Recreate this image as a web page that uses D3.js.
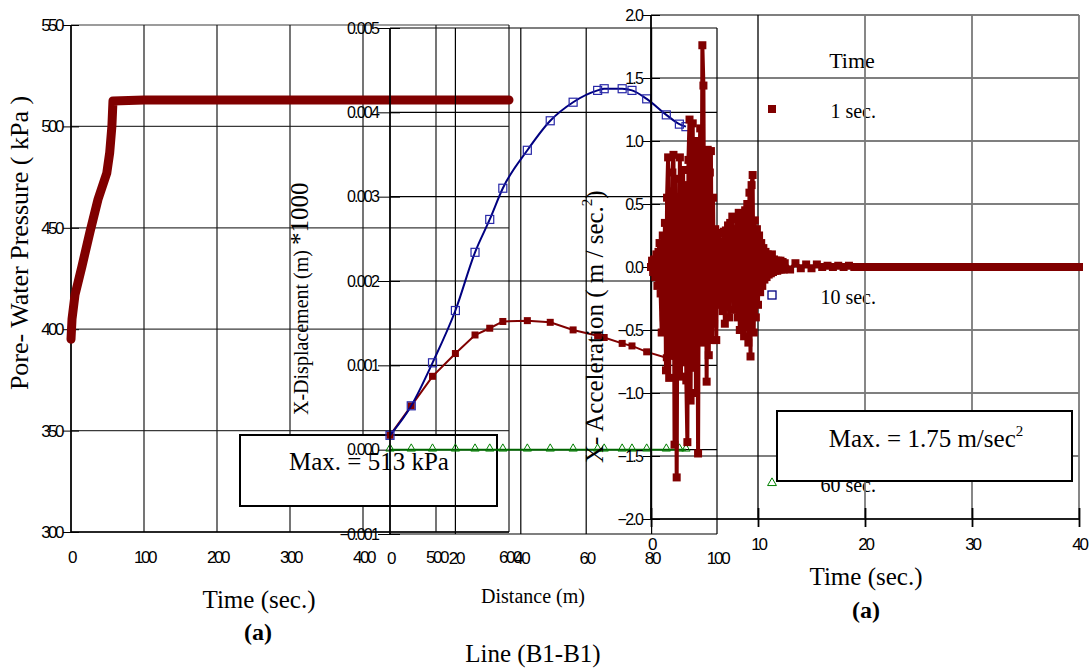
<!DOCTYPE html>
<html><head><meta charset="utf-8">
<script src="https://cdn.jsdelivr.net/npm/d3@7"></script>
<style>body{margin:0;background:#fff}</style>
</head><body>
<svg id="c" width="1090" height="670"></svg>
<script>
// ---------- DATA ----------
// (1) Pore-water pressure vs time
const poreTime = [0, 1.4, 5.5, 15, 26, 37, 49, 53, 56, 57.5, 100, 200, 300, 400, 500, 600];
const porePressure = [395, 405, 417, 431, 448, 464, 477, 487, 500, 512.5, 513, 513, 513, 513, 513, 513];
const poreXTicks = [0, 100, 200, 300, 400, 500, 600];
const poreYTicks = [300, 350, 400, 450, 500, 550];

// (2) X-displacement along line B1-B1
const distance = [0, 6.5, 13, 20, 26, 30.5, 34.5, 42, 49, 56, 63.5, 65.5, 71, 74, 78.5, 84.5, 88.5, 90.5];
const disp1s  = [0.00017, 0.00052, 0.00087, 0.00114, 0.00136, 0.00144, 0.00152, 0.00153, 0.00151, 0.00142, 0.00135, 0.00133, 0.00126, 0.00123, 0.00116, 0.00109, 0.00106, 0.00103];
const disp10s = [0.00017, 0.00052, 0.00103, 0.00165, 0.00234, 0.00273, 0.00310, 0.00355, 0.00390, 0.00412, 0.00426, 0.00428, 0.00428, 0.00426, 0.00416, 0.00397, 0.00386, 0.00383];
const disp60s = [0, 0, 0, 0, 0, 0, 0, 0, 0, 0, 0, 0, 0, 0, 0, 0, 0, 0];
const dispXTicks = [0, 20, 40, 60, 80, 100];
const dispYTicks = [-0.001, 0, 0.001, 0.002, 0.003, 0.004, 0.005];
const legendLabels = ["1 sec.", "10 sec.", "60 sec."];

// (3) X-acceleration vs time
const accTime = [
0.0,0.1,0.2,0.3,0.4,0.5,0.6,0.7,0.8,0.9,
1.0,1.1,1.2,1.3,1.4,1.5,1.6,1.7,1.8,1.9,
2.0,2.1,2.2,2.3,2.4,2.5,2.6,2.7,2.8,2.9,
3.0,3.1,3.2,3.3,3.4,3.5,3.6,3.7,3.8,3.9,
4.0,4.1,4.2,4.3,4.4,4.5,4.6,4.7,4.8,4.9,
5.0,5.1,5.2,5.3,5.4,5.5,5.6,5.7,5.8,5.9,
6.0,6.1,6.2,6.3,6.4,6.5,6.6,6.7,6.8,6.9,
7.0,7.1,7.2,7.3,7.4,7.5,7.6,7.7,7.8,7.9,
8.0,8.1,8.2,8.3,8.4,8.5,8.6,8.7,8.8,8.9,
9.0,9.1,9.2,9.3,9.4,9.5,9.6,9.7,9.8,9.9,
10.0,10.1,10.2,10.3,10.4,10.5,10.6,10.7,10.8,10.9,
11.0,11.1,11.2,11.3,11.4,11.5,11.6,11.7,11.8,11.9,
12.0,12.1,12.2,12.3,12.4,12.5,
13,13.5,14,14.5,15,15.5,16,16.5,17,17.5,
18,18.5,19,19.5,20,20.5,21,21.5,22,22.5,
23,23.5,24,24.5,25,25.5,26,26.5,27,27.5,
28,28.5,29,29.5,30,30.5,31,31.5,32,32.5,
33,33.5,34,34.5,35,35.5,36,36.5,37,37.5,
38,38.5,39,39.5,40];
const accValue = [
0.00,0.05,-0.04,0.06,-0.08,0.10,-0.15,0.12,0.19,-0.21,
-0.52,0.25,-0.40,0.35,-0.82,0.55,0.87,-0.88,0.60,-0.70,
0.75,0.89,-1.41,0.70,-1.67,0.55,-0.60,0.87,-0.87,0.60,
0.77,-0.74,0.65,-0.90,-1.39,0.85,1.17,-1.06,0.90,1.14,
-0.80,0.95,-1.00,1.00,-1.48,0.70,1.10,-0.60,1.76,1.44,
-0.55,0.80,-0.91,0.93,-0.70,0.75,0.92,-0.58,0.55,-0.45,
0.30,-0.58,0.22,-0.30,0.27,-0.25,0.20,-0.35,0.28,-0.45,
0.29,-0.30,0.33,-0.40,0.35,-0.25,0.40,-0.34,0.30,-0.28,
0.38,-0.40,0.43,-0.50,0.35,-0.45,0.40,-0.55,0.45,-0.48,
0.50,-0.60,0.59,-0.71,0.65,0.73,-0.52,0.37,-0.40,0.30,
-0.30,0.25,-0.20,0.19,-0.15,0.15,-0.10,0.12,-0.08,0.10,
-0.06,0.08,-0.05,0.10,-0.04,0.06,-0.03,0.05,-0.03,0.05,
-0.02,0.05,-0.02,0.04,-0.02,0.03,
-0.02,0.03,-0.01,0.02,-0.01,0.02,0.00,0.01,0.00,0.01,
0.00,0.01,0.00,0.00,0.00,0.00,0.00,0.00,0.00,0.00,
0.00,0.00,0.00,0.00,0.00,0.00,0.00,0.00,0.00,0.00,
0.00,0.00,0.00,0.00,0.00,0.00,0.00,0.00,0.00,0.00,
0.00,0.00,0.00,0.00,0.00,0.00,0.00,0.00,0.00,0.00,
0.00,0.00,0.00,0.00,0.00];
const accXTicks = [0, 10, 20, 30, 40];
const accYTicks = [-2, -1.5, -1, -0.5, 0, 0.5, 1, 1.5, 2];

// ---------- DRAWING ----------
const svg = d3.select('#c');
const serif = "'Liberation Serif','Times New Roman',serif";
const sans = "'Liberation Sans',Arial,sans-serif";
const RED = '#800000', BLUE = '#000080', GREEN = '#008000';

function styleAxis(g, size, ls) {
  g.select('.domain').remove();
  g.attr('font-family', null).attr('font-size', null);
  g.selectAll('text').attr('font-family', sans).attr('font-size', size)
    .attr('letter-spacing', ls).attr('fill', '#000');
  g.selectAll('line').attr('stroke', '#000');
}

// ===== Chart 1: pore pressure =====
const px = d3.scaleLinear().domain([0, 600]).range([71, 509]);
const py = d3.scaleLinear().domain([300, 550]).range([532, 25]);
const g1 = svg.append('g');
g1.selectAll('line.h').data(poreYTicks).join('line')
  .attr('x1', px(0)).attr('x2', px(600)).attr('y1', d => py(d)).attr('y2', d => py(d))
  .attr('stroke', '#3a3a3a').attr('stroke-width', 1.2);
g1.selectAll('line.v').data(poreXTicks).join('line')
  .attr('x1', d => px(d)).attr('x2', d => px(d)).attr('y1', py(550)).attr('y2', py(300))
  .attr('stroke', '#1a1a1a').attr('stroke-width', 1.2);
const ay1 = g1.append('g').attr('transform', `translate(${px(0)},0)`)
  .call(d3.axisLeft(py).tickValues(poreYTicks).tickSize(8).tickPadding(1));
styleAxis(ay1, 17, -2.5);
ay1.selectAll('line').attr('x1', 8);
const ax1 = g1.append('g').attr('transform', `translate(0,${py(300)})`)
  .call(d3.axisBottom(px).tickValues(poreXTicks).tickSize(0).tickPadding(19));
styleAxis(ax1, 17, -2.5);
g1.append('line').attr('x1', px(0)).attr('x2', px(0)).attr('y1', py(550)).attr('y2', py(300)).attr('stroke', '#000').attr('stroke-width', 1.5);
g1.append('line').attr('x1', px(0)).attr('x2', px(600)).attr('y1', py(300)).attr('y2', py(300)).attr('stroke', '#000').attr('stroke-width', 1.5);
g1.append('path').datum(poreTime.map((t, i) => [t, porePressure[i]]))
  .attr('d', d3.line().x(d => px(d[0])).y(d => py(d[1])))
  .attr('fill', 'none').attr('stroke', RED).attr('stroke-width', 9)
  .attr('stroke-linejoin', 'round').attr('stroke-linecap', 'round');
// Max box
g1.append('rect').attr('x', 240).attr('y', 435).attr('width', 257).attr('height', 71)
  .attr('fill', '#fff').attr('stroke', '#000').attr('stroke-width', 2);
g1.append('text').attr('x', 369).attr('y', 470).attr('text-anchor', 'middle')
  .attr('font-family', serif).attr('font-size', 25).text('Max. = 513 kPa');

// ===== Chart 2: displacement =====
const dx = d3.scaleLinear().domain([0, 100]).range([390, 717]);
const dy = d3.scaleLinear().domain([-0.001, 0.005]).range([534, 28]);
const g2 = svg.append('g');
g2.selectAll('line.h').data(dispYTicks).join('line')
  .attr('x1', dx(0)).attr('x2', dx(100)).attr('y1', d => dy(d)).attr('y2', d => dy(d))
  .attr('stroke', '#000').attr('stroke-width', 1.2);
g2.selectAll('line.v').data(dispXTicks).join('line')
  .attr('x1', d => dx(d)).attr('x2', d => dx(d)).attr('y1', dy(0.005)).attr('y2', dy(-0.001))
  .attr('stroke', '#000').attr('stroke-width', 1.2);
const ay2 = g2.append('g').attr('transform', `translate(${dx(0)},0)`)
  .call(d3.axisLeft(dy).tickValues(dispYTicks).tickSize(12).tickPadding(0).tickFormat(d3.format('.3f')));
styleAxis(ay2, 16, -1.8);
ay2.selectAll('line').attr('x1', 10);
const ax2 = g2.append('g').attr('transform', `translate(0,${dy(-0.001)})`)
  .call(d3.axisBottom(dx).tickValues(dispXTicks).tickSize(0).tickPadding(18));
styleAxis(ax2, 17, -2.2);

const line2 = d3.line().x(d => dx(d[0])).y(d => dy(d[1]));
const s1 = distance.map((d, i) => [d, disp1s[i]]);
const s10 = distance.map((d, i) => [d, disp10s[i]]);
const s60 = distance.map((d, i) => [d, disp60s[i]]);
g2.append('path').datum(s60).attr('d', line2).attr('fill', 'none').attr('stroke', '#006400').attr('stroke-width', 2);
g2.selectAll('path.tri').data(s60).join('path')
  .attr('d', d3.symbol().type(d3.symbolTriangle).size(30))
  .attr('transform', d => `translate(${dx(d[0])},${dy(d[1]) - 1})`)
  .attr('fill', 'none').attr('stroke', GREEN).attr('stroke-width', 1);
g2.append('path').datum(s1).attr('d', line2).attr('fill', 'none').attr('stroke', RED).attr('stroke-width', 2);
g2.selectAll('rect.r').data(s1).join('rect')
  .attr('x', d => dx(d[0]) - 3.5).attr('y', d => dy(d[1]) - 3.5).attr('width', 7).attr('height', 7)
  .attr('fill', RED);
g2.append('path').datum(s10).attr('d', d3.line().curve(d3.curveMonotoneX).x(d => dx(d[0])).y(d => dy(d[1])))
  .attr('fill', 'none').attr('stroke', BLUE).attr('stroke-width', 2);
g2.selectAll('rect.b').data(s10).join('rect')
  .attr('x', d => dx(d[0]) - 4).attr('y', d => dy(d[1]) - 4).attr('width', 8).attr('height', 8)
  .attr('fill', 'none').attr('stroke', '#2828a8').attr('stroke-width', 1.2);
g2.append('line').attr('x1', dx(0)).attr('x2', dx(0)).attr('y1', dy(0.005)).attr('y2', dy(-0.001)).attr('stroke', '#000').attr('stroke-width', 1.5);

// legend
const lg = svg.append('g').attr('font-family', serif);
lg.append('text').attr('x', 852).attr('y', 68).attr('text-anchor', 'middle').attr('font-size', 22).text('Time');
const legY = [109, 295, 483];
lg.append('rect').attr('x', 768).attr('y', legY[0] - 4).attr('width', 8).attr('height', 8).attr('fill', RED);
lg.append('rect').attr('x', 768).attr('y', legY[1] - 4).attr('width', 8).attr('height', 8).attr('fill', 'none').attr('stroke', BLUE).attr('stroke-width', 1.3);
lg.append('path').attr('d', d3.symbol().type(d3.symbolTriangle).size(34)).attr('transform', `translate(772,${legY[2]})`)
  .attr('fill', 'none').attr('stroke', GREEN).attr('stroke-width', 1);
lg.selectAll('text.l').data(legendLabels).join('text')
  .attr('x', 876).attr('y', (d, i) => legY[i] + 9).attr('text-anchor', 'end').attr('font-size', 20).text(d => d);

// ===== Chart 3: acceleration =====
const ax = d3.scaleLinear().domain([0, 40]).range([651, 1079]);
const ayS = d3.scaleLinear().domain([-2, 2]).range([519, 15]);
const g3 = svg.append('g');
g3.selectAll('line.h').data(accYTicks).join('line')
  .attr('x1', ax(0)).attr('x2', ax(40)).attr('y1', d => ayS(d)).attr('y2', d => ayS(d))
  .attr('stroke', '#000').attr('stroke-width', 1.2);
g3.selectAll('line.v').data(accXTicks).join('line')
  .attr('x1', d => ax(d)).attr('x2', d => ax(d)).attr('y1', ayS(2)).attr('y2', ayS(-2))
  .attr('stroke', d => (d === 0 || d === 10) ? '#000' : '#7a7a7a').attr('stroke-width', d => (d === 0 || d === 10) ? 1.3 : 1.8);
const ay3 = g3.append('g').attr('transform', `translate(${ax(0)},0)`)
  .call(d3.axisLeft(ayS).tickValues(accYTicks).tickSize(8).tickPadding(1).tickFormat(d3.format('.1f')));
styleAxis(ay3, 16, -1.8);
ay3.selectAll('line').attr('x1', 9);
const ax3 = g3.append('g').attr('transform', `translate(0,${ayS(-2)})`)
  .call(d3.axisBottom(ax).tickValues(accXTicks).tickSize(8).tickPadding(11));
styleAxis(ax3, 17, -2.2);
ax3.selectAll('line').attr('y1', -11).attr('stroke-width', 1.8);
g3.append('line').attr('x1', ax(0)).attr('x2', ax(40)).attr('y1', ayS(-2)).attr('y2', ayS(-2)).attr('stroke', '#000').attr('stroke-width', 1.5);
g3.append('line').attr('x1', ax(0)).attr('x2', ax(0)).attr('y1', ayS(2)).attr('y2', ayS(-2)).attr('stroke', '#000').attr('stroke-width', 1.5);

const accPts = accTime.map((t, i) => [t, accValue[i]]);
g3.append('path').datum(accPts)
  .attr('d', d3.line().x(d => ax(d[0])).y(d => ayS(d[1])))
  .attr('fill', 'none').attr('stroke', RED).attr('stroke-width', 4).attr('stroke-linejoin', 'round');
g3.selectAll('rect.a').data(accPts).join('rect')
  .attr('x', d => ax(d[0]) - 4).attr('y', d => ayS(d[1]) - 4).attr('width', 8).attr('height', 8)
  .attr('fill', RED);

// Max box acceleration
g3.append('rect').attr('x', 777).attr('y', 411).attr('width', 295).attr('height', 70)
  .attr('fill', '#fff').attr('stroke', '#000').attr('stroke-width', 2);
const mt = g3.append('text').attr('x', 926).attr('y', 447).attr('text-anchor', 'middle')
  .attr('font-family', serif).attr('font-size', 25);
mt.append('tspan').text('Max. = 1.75 m/sec');
mt.append('tspan').attr('font-size', 15).attr('dy', -11).text('2');

// ===== Titles =====
const tg = svg.append('g').attr('font-family', serif).attr('fill', '#000');
tg.append('text').attr('transform', 'translate(28,243) rotate(-90)').attr('text-anchor', 'middle')
  .attr('font-size', 26).text('Pore- Water Pressure ( kPa )');
const dt = tg.append('text').attr('transform', 'translate(308,415) rotate(-90)').attr('text-anchor', 'start');
dt.append('tspan').attr('font-size', 20).text('X-Displacement (m) ');
dt.append('tspan').attr('font-size', 25).text('*1000');
const at = tg.append('text').attr('transform', 'translate(603,463) rotate(-90)').attr('text-anchor', 'start').attr('font-size', 25);
at.append('tspan').text('X- Acceleration ( m / sec.');
at.append('tspan').attr('font-size', 15).attr('dy', -11).text('2');
at.append('tspan').attr('dy', 11).text(')');

tg.append('text').attr('x', 259).attr('y', 608).attr('text-anchor', 'middle').attr('font-size', 25).text('Time (sec.)');
tg.append('text').attr('x', 258).attr('y', 640).attr('text-anchor', 'middle').attr('font-size', 24).attr('font-weight', 'bold').text('(a)');
tg.append('text').attr('x', 533).attr('y', 603).attr('text-anchor', 'middle').attr('font-size', 20).text('Distance (m)');
tg.append('text').attr('x', 533).attr('y', 662).attr('text-anchor', 'middle').attr('font-size', 25).text('Line (B1-B1)');
tg.append('text').attr('x', 866).attr('y', 585).attr('text-anchor', 'middle').attr('font-size', 25).text('Time (sec.)');
tg.append('text').attr('x', 866).attr('y', 618).attr('text-anchor', 'middle').attr('font-size', 24).attr('font-weight', 'bold').text('(a)');
</script>
</body></html>
